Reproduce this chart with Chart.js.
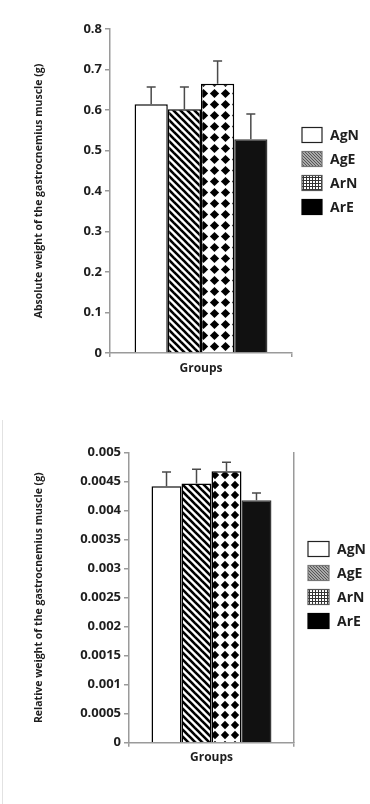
<!DOCTYPE html>
<html lang="en">
<head>
    <meta charset="UTF-8">
    <title>Gastrocnemius muscle weight</title>
    <script src="https://cdn.jsdelivr.net/npm/chart.js"></script>
    <style>
        body {
            margin: 0;
            background: #fff;
            width: 370px;
            height: 804px;
            position: relative;
            overflow: hidden;
        }
        canvas {
            position: absolute;
            left: 0;
        }
        #absChart { top: 0; }
        #relChart { top: 400px; }
        .frame {
            position: absolute;
            left: 2px;
            top: 420px;
            height: 384px;
            border-left: 1px solid #e2e2e2;
        }
    </style>
</head>
<body>
    <canvas id="absChart" width="370" height="400"></canvas>
    <canvas id="relChart" width="370" height="404"></canvas>
    <div class="frame"></div>

    <script>
        // data
        const groups = ['AgN', 'AgE', 'ArN', 'ArE'];
        const absMean = [0.614, 0.602, 0.665, 0.528];
        const absErr = [0.043, 0.055, 0.056, 0.062];
        const absTicks = ['0', '0.1', '0.2', '0.3', '0.4', '0.5', '0.6', '0.7', '0.8'];
        const relMean = [0.00442, 0.00447, 0.00468, 0.00418];
        const relErr = [0.000247, 0.000244, 0.000154, 0.000125];
        const relTicks = ['0', '0.0005', '0.001', '0.0015', '0.002', '0.0025',
                          '0.003', '0.0035', '0.004', '0.0045', '0.005'];

        const FONT = '"Open Sans", "Noto Sans", sans-serif';
        const AXIS = '#9a9a9a';
        const TEXT = '#1e1e1e';

        function makeTile(size, draw) {
            const c = document.createElement('canvas');
            c.width = size; c.height = size;
            const g = c.getContext('2d');
            draw(g, size);
            return document.createElement('canvas').getContext('2d').createPattern(c, 'repeat');
        }

        function stripes(size, lw, color) {
            return makeTile(size, (g, s) => {
                g.fillStyle = '#fff';
                g.fillRect(0, 0, s, s);
                g.strokeStyle = color;
                g.lineWidth = lw;
                for (let k = -1; k <= 1; k++) {
                    g.beginPath();
                    g.moveTo(k * s - 1, -1);
                    g.lineTo(k * s + s + 1, s + 1);
                    g.stroke();
                }
            });
        }

        function diamonds(size, r) {
            return makeTile(size, (g, s) => {
                g.fillStyle = '#fff';
                g.fillRect(0, 0, s, s);
                g.fillStyle = '#000';
                const c = s / 2;
                g.beginPath();
                g.moveTo(c, c - r);
                g.lineTo(c + r, c);
                g.lineTo(c, c + r);
                g.lineTo(c - r, c);
                g.closePath();
                g.fill();
            });
        }

        function grid(size) {
            return makeTile(size, (g, s) => {
                g.fillStyle = '#fff';
                g.fillRect(0, 0, s, s);
                g.fillStyle = '#333';
                g.fillRect(0, 0, s, 1);
                g.fillRect(0, 0, 1, s);
            });
        }

        // swatches of the legend use the finer hatch of the original
        const swatchFills = ['#fff', stripes(3, 1.4, '#555'), grid(3), '#000'];
        const swatchBorders = ['#222', '#777', '#555', '#000'];

        const errorBars = {
            id: 'errorBars',
            afterDatasetsDraw(chart, args, opts) {
                const ctx = chart.ctx;
                const y = chart.scales.y;
                ctx.save();
                ctx.strokeStyle = '#4a4a4a';
                ctx.lineWidth = 1.5;
                chart.data.datasets.forEach((ds, i) => {
                    const bar = chart.getDatasetMeta(i).data[0];
                    const top = y.getPixelForValue(ds.data[0] + opts.errors[i]);
                    ctx.beginPath();
                    ctx.moveTo(bar.x, bar.y);
                    ctx.lineTo(bar.x, top);
                    ctx.moveTo(bar.x - 4.5, top);
                    ctx.lineTo(bar.x + 4.5, top);
                    ctx.stroke();
                });
                ctx.restore();
            }
        };

        const sideLegend = {
            id: 'sideLegend',
            afterDraw(chart, args, opts) {
                const ctx = chart.ctx;
                ctx.save();
                ctx.font = 'bold 14px ' + FONT;
                ctx.textBaseline = 'middle';
                groups.forEach((name, i) => {
                    const cy = opts.y + i * opts.gap;
                    ctx.fillStyle = swatchFills[i];
                    ctx.fillRect(opts.x, cy - 7.5, opts.w, 15);
                    ctx.strokeStyle = swatchBorders[i];
                    ctx.lineWidth = 1.2;
                    ctx.strokeRect(opts.x, cy - 7.5, opts.w, 15);
                    ctx.fillStyle = TEXT;
                    ctx.fillText(name, opts.x + opts.w + 8, cy + 1);
                });
                ctx.restore();
            }
        };

        function buildChart(id, cfg) {
            const fills = ['#fff', stripes(cfg.stripe, 2.6, '#000'), diamonds(cfg.dot, cfg.dot * 0.42), '#111'];
            const borders = ['#000', '#000', '#000', '#3a3a3a'];
            const scales = {
                x: {
                    type: 'category',
                    labels: ['Groups'],
                    afterFit: s => { s.height = 30; },
                    grid: {
                        offset: true,
                        drawOnChartArea: false,
                        drawTicks: true,
                        tickLength: 4,
                        color: AXIS,
                        lineWidth: 1.5
                    },
                    border: { display: true, color: AXIS, width: 1.5 },
                    ticks: { display: false },
                    title: {
                        display: true,
                        text: 'Groups',
                        color: TEXT,
                        font: { family: FONT, size: 12, weight: 'bold' },
                        padding: { top: 0, bottom: cfg.xTitlePad }
                    }
                },
                y: {
                    min: 0,
                    max: cfg.max,
                    afterFit: s => { s.width = cfg.left; },
                    afterBuildTicks: s => {
                        s.ticks = cfg.ticks.map((t, i) => ({ value: i * cfg.step }));
                    },
                    grid: {
                        drawOnChartArea: false,
                        drawTicks: true,
                        tickLength: 5,
                        color: AXIS,
                        lineWidth: 1.5
                    },
                    border: { display: true, color: AXIS, width: 1.5 },
                    ticks: {
                        padding: 3,
                        color: TEXT,
                        font: { family: FONT, size: 13, weight: 'bold' },
                        callback: (v, i) => cfg.ticks[i]
                    },
                    title: {
                        display: true,
                        text: cfg.yTitle,
                        color: TEXT,
                        font: { family: FONT, size: 10.5, weight: 'bold' },
                        padding: { top: 32.7, bottom: 0 }
                    }
                }
            };
            if (cfg.rightBorder) {
                scales.y2 = {
                    position: 'right',
                    min: 0, max: 1,
                    afterFit: s => { s.width = 0; },
                    grid: { display: false },
                    ticks: { display: false },
                    border: { display: true, color: AXIS, width: 1.5 }
                };
            }
            return new Chart(document.getElementById(id), {
                type: 'bar',
                data: {
                    labels: ['Groups'],
                    datasets: groups.map((g, i) => ({
                        label: g,
                        data: [cfg.means[i]],
                        backgroundColor: fills[i],
                        borderColor: borders[i],
                        borderWidth: 1.5,
                        borderSkipped: 'bottom',
                        categoryPercentage: cfg.catPct,
                        barPercentage: 1.0
                    }))
                },
                options: {
                    responsive: false,
                    animation: false,
                    layout: { padding: cfg.padding },
                    scales: scales,
                    plugins: {
                        legend: { display: false },
                        tooltip: { enabled: false },
                        errorBars: { errors: cfg.errors },
                        sideLegend: cfg.legend
                    }
                },
                plugins: [errorBars, sideLegend]
            });
        }

        buildChart('absChart', {
            means: absMean, errors: absErr, ticks: absTicks,
            max: 0.8, step: 0.1, left: 110,
            padding: { top: 29, bottom: 17, left: 0, right: 78 },
            catPct: 0.73, stripe: 7, dot: 11, xTitlePad: 6.8,
            yTitle: 'Absolute weight of the gastrocnemius muscle (g)',
            legend: { x: 302, y: 135, gap: 24, w: 20 }
        });

        buildChart('relChart', {
            means: relMean, errors: relErr, ticks: relTicks,
            max: 0.005, step: 0.0005, left: 129,
            padding: { top: 52.7, bottom: 31.3, left: 0, right: 76 },
            catPct: 0.727, stripe: 7, dot: 10, xTitlePad: 7.5, rightBorder: true,
            yTitle: 'Relative weight of the gastrocnemius muscle (g)',
            legend: { x: 308, y: 149, gap: 24, w: 21 }
        });
    </script>
</body>
</html>
